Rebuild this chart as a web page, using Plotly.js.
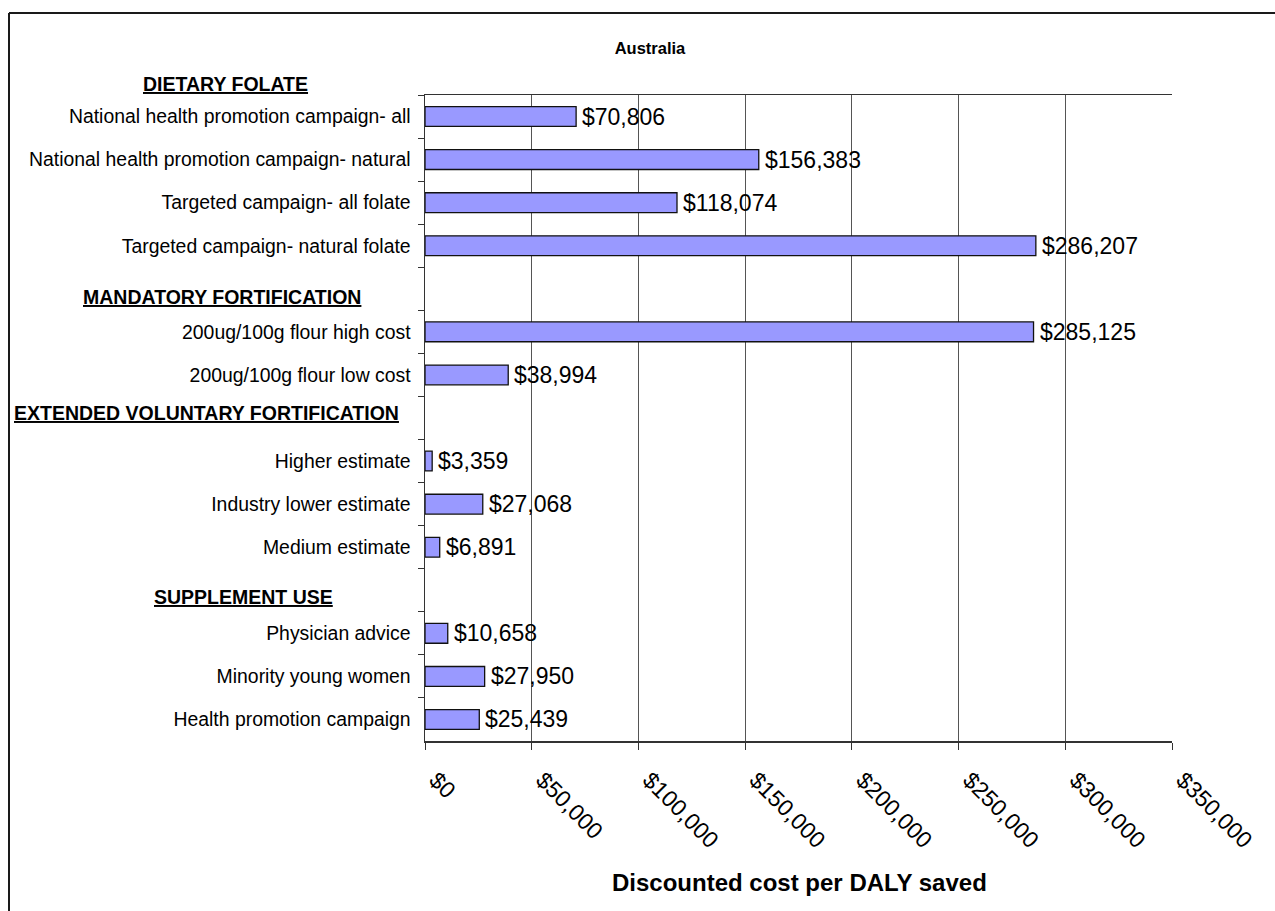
<!DOCTYPE html>
<html>
<head>
<meta charset="utf-8">
<script src="https://cdn.plot.ly/plotly-3.0.1.min.js"></script>
<style>
  html, body { margin: 0; padding: 0; background: #ffffff; }
  #chart { width: 1275px; height: 911px; }
</style>
</head>
<body>
<div id="chart"></div>
<script>
// Interventions, top to bottom; blank entries are spacer rows between groups
const categories = [
  "National health promotion campaign- all",
  "National health promotion campaign- natural",
  "Targeted campaign- all folate",
  "Targeted campaign- natural folate",
  " ",
  "200ug/100g flour high cost",
  "200ug/100g flour low cost",
  "  ",
  "Higher estimate",
  "Industry lower estimate",
  "Medium estimate",
  "   ",
  "Physician advice",
  "Minority young women",
  "Health promotion campaign"
];

// Discounted cost per DALY saved (AUD)
const costPerDaly = [
  70806, 156383, 118074, 286207,
  null,
  285125, 38994,
  null,
  3359, 27068, 6891,
  null,
  10658, 27950, 25439
];

// Group headings
const groupHeadings = [
  "DIETARY FOLATE",
  "MANDATORY FORTIFICATION",
  "EXTENDED VOLUNTARY FORTIFICATION",
  "SUPPLEMENT USE"
];

const xTickValues = [0, 50000, 100000, 150000, 200000, 250000, 300000, 350000];
const xTickLabels = ["$0", "$50,000", "$100,000", "$150,000", "$200,000", "$250,000", "$300,000", "$350,000"];

const xAxisTitle = "Discounted cost per DALY saved";

const FONT = "Liberation Sans, Arial, Helvetica, sans-serif";

// Page geometry
const W = 1275, H = 911;
const M = { l: 425, r: 103, t: 95, b: 170 };
const plotW = W - M.l - M.r;
const plotH = H - M.t - M.b;
const px2x = px => (px - M.l) / plotW;
const px2y = py => (H - M.b - py) / plotH;

const fmtMoney = v => "$" + v.toLocaleString("en-US");

const bars = {
  type: "bar",
  orientation: "h",
  y: categories,
  x: costPerDaly,
  marker: { color: "#9999ff", line: { color: "#111111", width: 1.3 } },
  hoverinfo: "x+y",
  cliponaxis: false
};

// Value labels placed just past the end of each bar
const valueLabels = [];
categories.forEach((c, i) => {
  const v = costPerDaly[i];
  if (v === null) return;
  valueLabels.push({
    x: v, y: c, xref: "x", yref: "y",
    text: fmtMoney(v),
    showarrow: false,
    xanchor: "left", yanchor: "middle",
    xshift: 4,
    font: { family: FONT, size: 23, color: "#000000" }
  });
});

// Heading positions (page pixels: centre x, centre y)
const headingPos = [[225, 84], [222, 297], [206, 413], [243, 597]];
const headingNotes = groupHeadings.map((t, i) => ({
  x: px2x(headingPos[i][0]), y: px2y(headingPos[i][1]),
  xref: "paper", yref: "paper",
  text: "<b><u>" + t + "</u></b>",
  showarrow: false,
  xanchor: "center", yanchor: "middle",
  font: { family: FONT, size: 19.5, color: "#000000" }
}));

// Axis title below the slanted tick labels
const axisTitleNote = {
  x: px2x(799), y: px2y(882),
  xref: "paper", yref: "paper",
  text: "<b>" + xAxisTitle + "</b>",
  showarrow: false,
  xanchor: "center", yanchor: "middle",
  font: { family: FONT, size: 24, color: "#000000" }
};

// Outer frame of the chart (extends past the right and bottom page edges)
const frame = [
  { type: "line", xref: "paper", yref: "paper",
    x0: px2x(9), x1: px2x(W + 10), y0: px2y(13), y1: px2y(13),
    line: { color: "#1a1a1a", width: 2 } },
  { type: "line", xref: "paper", yref: "paper",
    x0: px2x(9), x1: px2x(9), y0: px2y(13), y1: px2y(H + 10),
    line: { color: "#1a1a1a", width: 2 } }
];

const layout = {
  width: W, height: H,
  margin: M,
  paper_bgcolor: "#ffffff",
  plot_bgcolor: "#ffffff",
  showlegend: false,
  bargap: 0.54,
  font: { family: FONT, color: "#000000" },
  title: {
    text: "<b>Australia</b>",
    x: 650 / W, xanchor: "center",
    y: 1 - 48 / H, yanchor: "middle",
    font: { family: FONT, size: 16.5, color: "#000000" }
  },
  xaxis: {
    range: [0, 350000],
    tickmode: "array",
    tickvals: xTickValues,
    ticktext: xTickLabels,
    tickangle: 45,
    ticks: "outside", ticklen: 7, tickwidth: 1, tickcolor: "#333333",
    ticklabelstandoff: 8,
    ticklabelshift: 11,
    tickfont: { family: FONT, size: 23, color: "#000000" },
    showgrid: true, gridcolor: "#555555", gridwidth: 1,
    showline: true, linecolor: "#333333", linewidth: 1.5,
    mirror: true,
    zeroline: false,
    fixedrange: true
  },
  yaxis: {
    type: "category",
    categoryorder: "array",
    categoryarray: categories,
    autorange: "reversed",
    tickson: "boundaries",
    ticks: "outside", ticklen: 6, tickwidth: 1, tickcolor: "#333333",
    ticklabelstandoff: 9,
    tickfont: { family: FONT, size: 19.4, color: "#000000" },
    showgrid: false,
    showline: true, linecolor: "#333333", linewidth: 1.5,
    zeroline: false,
    fixedrange: true
  },
  annotations: valueLabels.concat(headingNotes, [axisTitleNote]),
  shapes: frame
};

Plotly.newPlot("chart", [bars], layout, { displayModeBar: false, staticPlot: true });
</script>
</body>
</html>
